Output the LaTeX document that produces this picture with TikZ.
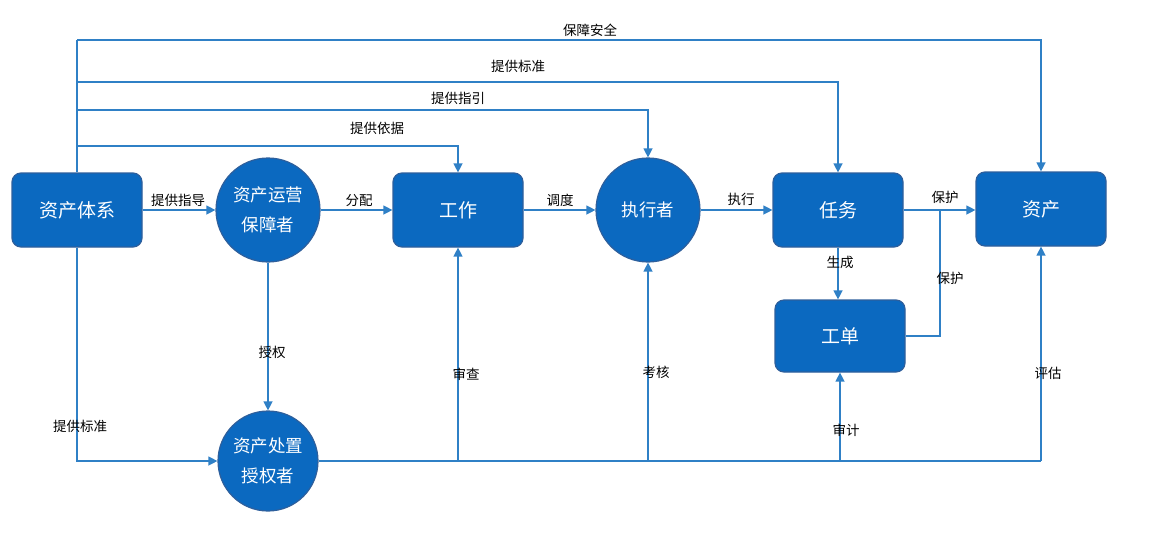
\documentclass[tikz,border=0pt]{standalone}
\usepackage{fontspec}
\setmainfont{Noto Sans CJK SC}
\usetikzlibrary{arrows.meta,calc}
\definecolor{nodefill}{HTML}{0B69C0}
\definecolor{nodeborder}{HTML}{2E5F9C}
\definecolor{linec}{HTML}{2F80C6}
\begin{document}
\begin{tikzpicture}[x=1pt,y=-1pt,
  boxn/.style={draw=nodeborder,line width=1.2pt,fill=nodefill,rounded corners=9pt,minimum width=130pt,minimum height=74pt,text=white,font=\fontsize{19}{22}\selectfont,inner sep=0pt},
  circn/.style={draw=nodeborder,line width=1.2pt,fill=nodefill,circle,minimum size=104pt,text=white,font=\fontsize{17.5}{30}\selectfont,inner sep=0pt,align=center},
  conn/.style={draw=linec,line width=1.3pt,-{Triangle[length=9pt,width=9pt]}},
  plain/.style={draw=linec,line width=1.3pt},
  lbl/.style={font=\fontsize{13.5}{15}\selectfont,text=black,inner sep=1pt}]
\useasboundingbox (0,0) rectangle (1158,544);

\node[boxn] (sys) at (77,210) {资产体系};
\node[circn] (ops) at (268,210) {资产运营\\保障者};
\node[boxn] (work) at (458,210) {工作};
\node[circn] (exe) at (648,210) {执行者};
\node[boxn] (task) at (838,210) {任务};
\node[boxn] (asset) at (1041,209) {资产};
\node[boxn,minimum height=72pt] (wo) at (840,336) {工单};
\node[circn,minimum size=100pt] (disp) at (268,461) {资产处置\\授权者};

% top feeder lines
\coordinate (t1) at (77,40);
\coordinate (t2) at (77,82);
\coordinate (t3) at (77,110);
\coordinate (t4) at (77,146);
\draw[plain] (sys.north -| t1) -- (t1);
\draw[conn] (t1) -- (t1 -| asset.north) -- (asset.north);
\draw[conn] (t2) -- (t2 -| task.north) -- (task.north);
\draw[conn] (t3) -- (t3 -| exe.north) -- (exe.north);
\draw[conn] (t4) -- (t4 -| work.north) -- (work.north);
\node[lbl] (l1) at (590,30) {保障安全};
\node[lbl] (l2) at (518,66) {提供标准};
\node[lbl] (l3) at (458,98) {提供指引};
\node[lbl] (l4) at (377,128) {提供依据};

% main row
\draw[conn] (sys.east) -- (ops.west);
\node[lbl] (l5) at (178,200) {提供指导};
\draw[conn] (ops.east) -- (work.west);
\node[lbl] (l6) at (359,201) {分配};
\draw[conn] (work.east) -- (exe.west);
\node[lbl] (l7) at (560,200) {调度};
\draw[conn] (exe.east) -- (task.west);
\node[lbl] (l8) at (741,199) {执行};
\draw[conn] (task.east) -- (task.east -| asset.west);
\node[lbl] (l9) at (945,197) {保护};

% task -> work order
\draw[conn] (task.south) -- (task.south |- wo.north);
\node[lbl] (l10) at (840,262) {生成};
\coordinate (pj) at (940,210);
\draw[plain] (wo.east) -- (wo.east -| pj) -- (pj);
\node[lbl] (l11) at (950,278) {保护};

% ops -> disposal
\draw[conn] (ops.south) -- (disp.north);
\node[lbl] (l12) at (272,352) {授权};

% system -> disposal
\coordinate (bl) at (77,461);
\draw[conn] (sys.south) -- (bl) -- (disp.west);
\node[lbl] (l13) at (80,426) {提供标准};

% bottom bus
\coordinate (br) at (1041,461);
\draw[plain] (disp.east) -- (br);
\draw[conn] (br) -- (asset.south);
\draw[conn] (work.south |- br) -- (work.south);
\draw[conn] (exe.south |- br) -- (exe.south);
\draw[conn] (wo.south |- br) -- (wo.south);
\node[lbl] (l14) at (466,374) {审查};
\node[lbl] (l15) at (656,372) {考核};
\node[lbl] (l16) at (846,430) {审计};
\node[lbl] (l17) at (1048,373) {评估};
\end{tikzpicture}
\end{document}
